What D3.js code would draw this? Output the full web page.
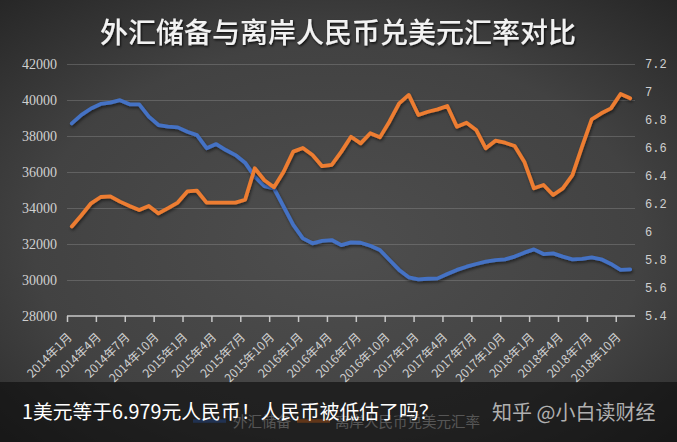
<!DOCTYPE html>
<html><head><meta charset="utf-8">
<script src="https://cdn.jsdelivr.net/npm/d3@7"></script>
<style>html,body{margin:0;padding:0;background:#333;}svg{display:block;}</style>
</head><body>
<svg id="c" width="677" height="442"></svg>
<script>
const categories = [
"2014年1月","2014年2月","2014年3月","2014年4月","2014年5月","2014年6月","2014年7月","2014年8月","2014年9月","2014年10月","2014年11月","2014年12月",
"2015年1月","2015年2月","2015年3月","2015年4月","2015年5月","2015年6月","2015年7月","2015年8月","2015年9月","2015年10月","2015年11月","2015年12月",
"2016年1月","2016年2月","2016年3月","2016年4月","2016年5月","2016年6月","2016年7月","2016年8月","2016年9月","2016年10月","2016年11月","2016年12月",
"2017年1月","2017年2月","2017年3月","2017年4月","2017年5月","2017年6月","2017年7月","2017年8月","2017年9月","2017年10月","2017年11月","2017年12月",
"2018年1月","2018年2月","2018年3月","2018年4月","2018年5月","2018年6月","2018年7月","2018年8月","2018年9月","2018年10月","2018年11月"];
const reserves = [38700,39170,39530,39780,39850,39990,39760,39760,39080,38610,
38520,38480,38240,38050,37320,37550,37220,36940,36520,35740,
35220,35090,34070,33060,32310,32040,32170,32220,31940,32090,
32070,31900,31670,31110,30560,30150,30040,30070,30090,30330,
30560,30740,30890,31020,31110,31150,31300,31520,31700,31440,
31480,31300,31150,31170,31260,31150,30890,30560,30590];
const cnhRate = [6.04,6.12,6.205,6.25,6.255,6.217,6.186,6.157,6.186,6.133,
6.17,6.21,6.29,6.295,6.21,6.21,6.21,6.21,6.23,6.455,
6.37,6.32,6.43,6.574,6.6,6.55,6.47,6.48,6.574,6.68,
6.633,6.705,6.676,6.79,6.919,6.979,6.836,6.859,6.876,6.9,
6.752,6.781,6.729,6.598,6.652,6.638,6.614,6.502,6.312,6.336,
6.264,6.312,6.407,6.61,6.805,6.848,6.883,6.986,6.955];
const leftTicks = [28000,30000,32000,34000,36000,38000,40000,42000];
const rightTicks = [5.4,5.6,5.8,6,6.2,6.4,6.6,6.8,7,7.2];
const seriesNames = ["外汇储备","离岸人民币兑美元汇率"];
const titleText = "外汇储备与离岸人民币兑美元汇率对比";
const captionText = "1美元等于6.979元人民币！人民币被低估了吗？";
const watermarkText = "知乎 @小白读财经";

const svg = d3.select("#c");
const W = 677, H = 442;
const defs = svg.append("defs");
const rg = defs.append("radialGradient").attr("id","bg").attr("cx","50%").attr("cy","55%").attr("r","75%");
rg.append("stop").attr("offset","0%").attr("stop-color","#4e4e4e");
rg.append("stop").attr("offset","60%").attr("stop-color","#424242");
rg.append("stop").attr("offset","100%").attr("stop-color","#262626");
const sh = defs.append("filter").attr("id","sh").attr("x","-10%").attr("y","-10%").attr("width","120%").attr("height","130%");
sh.append("feDropShadow").attr("dx",1).attr("dy",2).attr("stdDeviation",1.5).attr("flood-color","#000").attr("flood-opacity",0.5);
const tsh = defs.append("filter").attr("id","tsh");
tsh.append("feDropShadow").attr("dx",1).attr("dy",1.5).attr("stdDeviation",1).attr("flood-color","#000").attr("flood-opacity",0.8);

svg.append("rect").attr("width",W).attr("height",H).attr("fill","url(#bg)");

svg.append("text").attr("x",338).attr("y",43).attr("text-anchor","middle")
  .attr("font-family","'Noto Sans CJK SC'").attr("font-size",28).attr("font-weight",500)
  .attr("fill","#f2f2f2").attr("filter","url(#tsh)").text(titleText);

const x0 = 67, x1 = 635, yTop = 64, yBot = 316;
const xb = d3.scaleBand().domain(d3.range(categories.length)).range([x0,x1]).padding(0);
const xl = d3.scaleLinear().domain([0,categories.length]).range([x0,x1]);
const yL = d3.scaleLinear().domain([28000,42000]).range([yBot,yTop]);
const yR = d3.scaleLinear().domain([5.4,7.2]).range([yBot,yTop]);
const xc = i => xb(i) + xb.bandwidth()/2;

// gridlines
svg.append("g").selectAll("line").data(leftTicks.slice(1)).join("line")
  .attr("x1",x0).attr("x2",x1).attr("y1",d=>yL(d)+0.5).attr("y2",d=>yL(d)+0.5)
  .attr("stroke","#9a9a9a").attr("stroke-opacity",0.35).attr("stroke-width",1);

// left axis
const gl = svg.append("g").attr("transform",`translate(${x0},0)`)
  .call(d3.axisLeft(yL).tickValues(leftTicks).tickSize(0).tickPadding(10).tickFormat(d3.format("d")));
gl.select(".domain").remove();
gl.selectAll("text").attr("font-family","'Liberation Serif'").attr("font-size",14).attr("fill","#d0d0d0");

// right axis
const gr = svg.append("g").attr("transform",`translate(${x1},0)`)
  .call(d3.axisRight(yR).tickValues(rightTicks).tickSize(0).tickPadding(10).tickFormat(d=>String(+d.toFixed(1))));
gr.select(".domain").remove();
gr.selectAll("text").attr("font-family","'Liberation Mono'").attr("font-size",12).attr("fill","#d0d0d0");

// bottom axis
const tickIdx = d3.range(0, categories.length, 3);
const gb = svg.append("g").attr("transform",`translate(0,${yBot})`)
  .call(d3.axisBottom(xl).tickValues(tickIdx).tickSize(6).tickFormat(""));
gb.select(".domain").attr("stroke","#c8c8c8").attr("stroke-width",1.5).attr("d",`M${x0},0H${x1}`);
gb.selectAll(".tick line").attr("stroke","#c8c8c8").attr("stroke-width",1.5);

svg.append("g").selectAll("text").data(tickIdx).join("text")
  .attr("transform",i=>`translate(${xc(i)+1},${yBot+22}) rotate(-45)`)
  .attr("text-anchor","end").attr("font-family","'Noto Sans CJK SC'").attr("font-size",12)
  .attr("fill","#d0d0d0").text(i=>categories[i]);

// lines
const lineL = d3.line().x((d,i)=>xc(i)).y(d=>yL(d));
const lineR = d3.line().x((d,i)=>xc(i)).y(d=>yR(d));
svg.append("path").datum(reserves).attr("d",lineL).attr("fill","none")
  .attr("stroke","#4472c4").attr("stroke-width",3.8).attr("stroke-linejoin","round").attr("stroke-linecap","round").attr("filter","url(#sh)");
svg.append("path").datum(cnhRate).attr("d",lineR).attr("fill","none")
  .attr("stroke","#ed7d31").attr("stroke-width",3.8).attr("stroke-linejoin","round").attr("stroke-linecap","round").attr("filter","url(#sh)");

// legend
const legend = [{name:seriesNames[0],color:"#4472c4",x:193,tx:233},{name:seriesNames[1],color:"#ed7d31",x:297,tx:335}];
const lg = svg.append("g");
lg.selectAll("line").data(legend).join("line")
  .attr("x1",d=>d.x).attr("x2",d=>d.x+33).attr("y1",421).attr("y2",421)
  .attr("stroke",d=>d.color).attr("stroke-width",3.5);
lg.selectAll("text").data(legend).join("text")
  .attr("x",d=>d.tx).attr("y",427).attr("font-family","'Noto Sans CJK SC'").attr("font-size",14.5)
  .attr("fill","#d0d0d0").text(d=>d.name);

// overlay band
svg.append("rect").attr("x",0).attr("y",382).attr("width",W).attr("height",H-382)
  .attr("fill","#0c0c0c").attr("fill-opacity",0.62);

svg.append("text").attr("x",22).attr("y",419).attr("font-family","'Noto Sans CJK SC'").attr("font-size",19.8)
  .attr("fill","#ffffff").text(captionText);
svg.append("text").attr("x",492).attr("y",420).attr("font-family","'Noto Sans CJK SC'").attr("font-size",20)
  .attr("fill","#b0b0b0").text(watermarkText);
</script>
</body></html>
